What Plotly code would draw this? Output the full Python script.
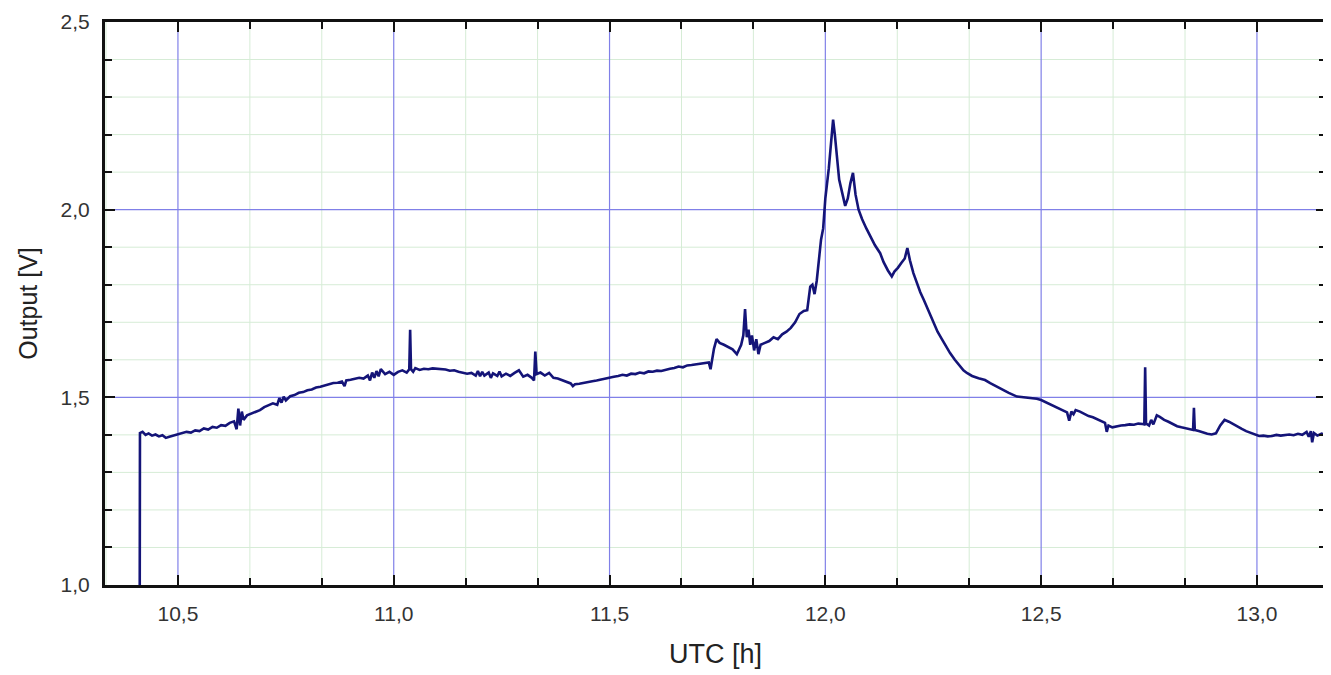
import plotly.graph_objects as go

# ---- data ----
utc_h = [
    10.4115, 10.4120, 10.418, 10.425, 10.432, 10.440, 10.448, 10.456, 10.464, 10.472, 10.480, 10.490, 10.500,
    10.510, 10.520, 10.530, 10.540, 10.550, 10.560, 10.570, 10.580, 10.590, 10.600, 10.610, 10.620, 10.630,
    10.636, 10.640, 10.644, 10.648, 10.652, 10.660, 10.670, 10.680, 10.690, 10.700, 10.710, 10.720, 10.730,
    10.735, 10.740, 10.745, 10.750, 10.760, 10.770, 10.780, 10.790, 10.800, 10.810, 10.820, 10.830, 10.840,
    10.850, 10.860, 10.870, 10.880, 10.886, 10.890, 10.900, 10.910, 10.920, 10.930, 10.940, 10.945, 10.950,
    10.955, 10.960, 10.965, 10.970, 10.980, 10.990, 11.000, 11.010, 11.020, 11.030, 11.036, 11.038, 11.040,
    11.045, 11.050, 11.060, 11.070, 11.080, 11.090, 11.100, 11.110, 11.120, 11.130, 11.140, 11.150, 11.160,
    11.170, 11.180, 11.190, 11.195, 11.200, 11.205, 11.210, 11.220, 11.225, 11.230, 11.240, 11.245, 11.250,
    11.260, 11.270, 11.280, 11.290, 11.300, 11.310, 11.320, 11.325, 11.328, 11.331, 11.340, 11.350, 11.360,
    11.370, 11.380, 11.390, 11.400, 11.410, 11.415, 11.420, 11.430, 11.440, 11.450, 11.460, 11.470, 11.480,
    11.490, 11.500, 11.510, 11.520, 11.530, 11.540, 11.550, 11.560, 11.570, 11.580, 11.590, 11.600, 11.610,
    11.620, 11.630, 11.640, 11.650, 11.660, 11.670, 11.680, 11.690, 11.700, 11.710, 11.720, 11.730, 11.734,
    11.738, 11.742, 11.748, 11.755, 11.765, 11.775, 11.785, 11.795, 11.805, 11.810, 11.814, 11.818, 11.822,
    11.826, 11.830, 11.835, 11.840, 11.845, 11.850, 11.860, 11.870, 11.880, 11.890, 11.900, 11.910, 11.920,
    11.930, 11.940, 11.950, 11.958, 11.965, 11.970, 11.975, 11.980, 11.985, 11.990, 11.995, 12.000, 12.008,
    12.014, 12.018, 12.022, 12.027, 12.032, 12.040, 12.046, 12.052, 12.058, 12.064, 12.070, 12.077, 12.085,
    12.095, 12.104, 12.115, 12.127, 12.135, 12.145, 12.154, 12.160, 12.168, 12.176, 12.184, 12.190, 12.196,
    12.204, 12.212, 12.220, 12.228, 12.235, 12.243, 12.251, 12.260, 12.270, 12.280, 12.289, 12.300, 12.310,
    12.320, 12.328, 12.340, 12.355, 12.370, 12.382, 12.395, 12.410, 12.425, 12.444, 12.460, 12.475, 12.490,
    12.500, 12.515, 12.530, 12.545, 12.560, 12.565, 12.570, 12.575, 12.580, 12.590, 12.600, 12.610, 12.620,
    12.630, 12.640, 12.648, 12.652, 12.656, 12.665, 12.675, 12.685, 12.695, 12.705, 12.715, 12.725, 12.735,
    12.739, 12.741, 12.743, 12.750, 12.755, 12.760, 12.768, 12.775, 12.785, 12.795, 12.805, 12.815, 12.825,
    12.835, 12.845, 12.852, 12.854, 12.856, 12.865, 12.875, 12.885, 12.895, 12.905, 12.915, 12.925, 12.935,
    12.945, 12.955, 12.965, 12.975, 12.985, 12.995, 13.005, 13.015, 13.025, 13.035, 13.045, 13.055, 13.065,
    13.075, 13.085, 13.095, 13.105, 13.115, 13.120, 13.125, 13.128, 13.132, 13.140, 13.150, 13.160, 13.166,
]
output_v = [
    1.000, 1.405, 1.408, 1.400, 1.404, 1.398, 1.401, 1.396, 1.399, 1.392, 1.395, 1.398, 1.401,
    1.404, 1.408, 1.406, 1.412, 1.410, 1.417, 1.414, 1.421, 1.419, 1.426, 1.424, 1.432, 1.436,
    1.415, 1.470, 1.425, 1.462, 1.440, 1.452, 1.456, 1.462, 1.466, 1.474, 1.478, 1.484, 1.480,
    1.498, 1.486, 1.502, 1.492, 1.503, 1.506, 1.512, 1.514, 1.519, 1.521, 1.526, 1.528, 1.532,
    1.535, 1.538, 1.539, 1.542, 1.530, 1.545, 1.547, 1.549, 1.552, 1.550, 1.558, 1.545, 1.566,
    1.552, 1.570, 1.556, 1.575, 1.562, 1.568, 1.560, 1.568, 1.572, 1.566, 1.575, 1.680, 1.575,
    1.568, 1.578, 1.573, 1.576, 1.575, 1.577, 1.576, 1.576, 1.574, 1.571, 1.572, 1.568, 1.566,
    1.563, 1.565, 1.558, 1.570, 1.556, 1.568, 1.558, 1.566, 1.552, 1.564, 1.557, 1.569, 1.556,
    1.563, 1.557, 1.565, 1.572, 1.555, 1.560, 1.552, 1.545, 1.622, 1.562, 1.566, 1.558, 1.565,
    1.552, 1.550, 1.546, 1.542, 1.537, 1.530, 1.535, 1.536, 1.539, 1.541, 1.543, 1.545, 1.548,
    1.550, 1.553, 1.555, 1.557, 1.560, 1.558, 1.563, 1.562, 1.566, 1.564, 1.569, 1.568, 1.571,
    1.570, 1.574, 1.576, 1.578, 1.582, 1.580, 1.585, 1.586, 1.588, 1.590, 1.591, 1.593, 1.575,
    1.600, 1.630, 1.655, 1.645, 1.640, 1.635, 1.628, 1.615, 1.640, 1.665, 1.735, 1.660, 1.680,
    1.640, 1.665, 1.625, 1.655, 1.615, 1.640, 1.645, 1.650, 1.660, 1.655, 1.668, 1.675, 1.685,
    1.700, 1.722, 1.730, 1.732, 1.795, 1.800, 1.775, 1.810, 1.860, 1.920, 1.950, 2.030, 2.110,
    2.190, 2.240, 2.200, 2.130, 2.080, 2.040, 2.010, 2.030, 2.070, 2.098, 2.040, 2.000, 1.975,
    1.950, 1.930, 1.905, 1.884, 1.860, 1.838, 1.822, 1.835, 1.845, 1.858, 1.870, 1.898, 1.865,
    1.831, 1.805, 1.780, 1.760, 1.742, 1.720, 1.698, 1.675, 1.655, 1.635, 1.618, 1.600, 1.585,
    1.572, 1.565, 1.557, 1.551, 1.546, 1.538, 1.530, 1.520, 1.512, 1.502, 1.500, 1.498, 1.496,
    1.493, 1.485, 1.476, 1.468, 1.460, 1.438, 1.462, 1.455, 1.466, 1.462, 1.455, 1.450, 1.447,
    1.442, 1.437, 1.432, 1.408, 1.425, 1.420, 1.423, 1.425, 1.426, 1.428, 1.427, 1.430, 1.429,
    1.428, 1.580, 1.430, 1.425, 1.440, 1.428, 1.452, 1.448, 1.440, 1.435, 1.428, 1.423, 1.420,
    1.418, 1.415, 1.413, 1.472, 1.413, 1.410, 1.406, 1.403, 1.401, 1.404, 1.425, 1.440, 1.435,
    1.428, 1.422, 1.416, 1.410, 1.405, 1.402, 1.397, 1.398, 1.396, 1.397, 1.400, 1.398, 1.400,
    1.401, 1.399, 1.403, 1.400, 1.408, 1.395, 1.410, 1.380, 1.405, 1.398, 1.403, 1.400, 1.401,
]

x_tickvals = [10.5, 11.0, 11.5, 12.0, 12.5, 13.0]
x_ticktext = ["10,5", "11,0", "11,5", "12,0", "12,5", "13,0"]
y_tickvals = [1.0, 1.5, 2.0, 2.5]
y_ticktext = ["1,0", "1,5", "2,0", "2,5"]

X_RANGE = [10.331, 13.160]
Y_RANGE = [1.0, 2.5]

# minor grid positions (every 10 min on x, every 0.1 V on y), skipping the major ones
x_minor = [round(10.0 + k / 6, 4) for k in range(0, 21) if k % 3 != 0]
x_minor = [v for v in x_minor if X_RANGE[0] < v < X_RANGE[1]]
y_minor = [round(1.0 + k / 10, 3) for k in range(0, 16) if k % 5 != 0]

FONT = "Liberation Sans, Arial, sans-serif"
MINOR_GRID = "#d6ecd6"
MAJOR_GRID = "#8080e8"

fig = go.Figure()
fig.add_trace(go.Scatter(
    x=utc_h, y=output_v, mode="lines",
    line=dict(color="#141478", width=2.6),
    showlegend=False,
))

# grid lines drawn as shapes beneath the data: minor (green) first, then major (blue)
shapes = []
for v in x_minor:
    shapes.append(dict(type="line", xref="x", yref="paper", x0=v, x1=v, y0=0, y1=1,
                       line=dict(color=MINOR_GRID, width=1), layer="below"))
for v in y_minor:
    shapes.append(dict(type="line", xref="paper", yref="y", x0=0, x1=1, y0=v, y1=v,
                       line=dict(color=MINOR_GRID, width=1), layer="below"))
for v in x_tickvals:
    shapes.append(dict(type="line", xref="x", yref="paper", x0=v, x1=v, y0=0, y1=1,
                       line=dict(color=MAJOR_GRID, width=1.2), layer="below"))
for v in y_tickvals[1:-1]:
    shapes.append(dict(type="line", xref="paper", yref="y", x0=0, x1=1, y0=v, y1=v,
                       line=dict(color=MAJOR_GRID, width=1.2), layer="below"))

axis_common = dict(
    showline=True, linecolor="#111111", linewidth=3, mirror="allticks",
    ticks="inside", ticklen=10, tickwidth=2, tickcolor="#111111",
    showgrid=False,
    zeroline=False, automargin=False,
    tickfont=dict(family=FONT, size=21, color="#333333"),
    ticklabelstandoff=8,
)

fig.update_xaxes(
    range=X_RANGE,
    tickmode="array", tickvals=x_tickvals, ticktext=x_ticktext,
    minor=dict(tickmode="array", tickvals=x_minor, showgrid=False,
               ticks="inside", ticklen=7, tickcolor="#111111", tickwidth=2),
    title=dict(text="UTC [h]", font=dict(family=FONT, size=27, color="#222222"),
               standoff=20),
    **axis_common,
)
fig.update_yaxes(
    range=Y_RANGE,
    tickmode="array", tickvals=y_tickvals, ticktext=y_ticktext,
    minor=dict(tickmode="array", tickvals=y_minor, showgrid=False,
               ticks="inside", ticklen=7, tickcolor="#111111", tickwidth=2),
    title=dict(text="Output [V]", font=dict(family=FONT, size=25, color="#222222"),
               standoff=16),
    **axis_common,
)

fig.update_layout(
    width=1323, height=667,
    margin=dict(l=97, r=5, t=14, b=90),
    shapes=shapes,
    plot_bgcolor="#ffffff", paper_bgcolor="#ffffff",
)

fig.write_html("out.html")
